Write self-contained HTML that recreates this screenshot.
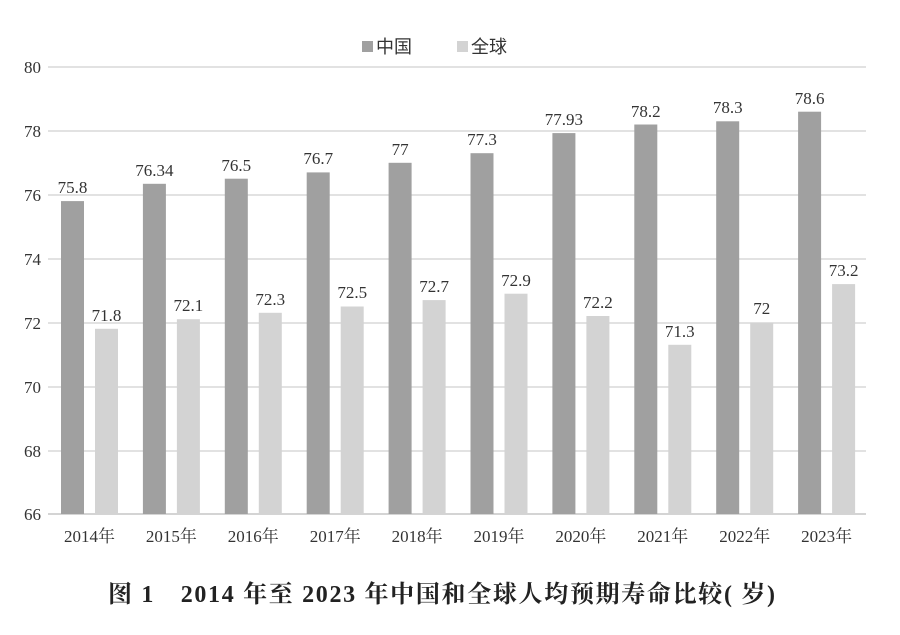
<!DOCTYPE html>
<html><head><meta charset="utf-8"><style>
body{margin:0;background:#fff;width:900px;height:630px;overflow:hidden}
</style></head><body>
<svg width="900" height="630" xmlns="http://www.w3.org/2000/svg" font-family="Liberation Serif, Noto Serif CJK SC, serif">
<g stroke="#d0d0d0" stroke-width="1.2">
<line x1="48" x2="866" y1="67" y2="67"/><line x1="48" x2="866" y1="131" y2="131"/>
<line x1="48" x2="866" y1="195" y2="195"/><line x1="48" x2="866" y1="259" y2="259"/>
<line x1="48" x2="866" y1="323" y2="323"/><line x1="48" x2="866" y1="387" y2="387"/>
<line x1="48" x2="866" y1="451" y2="451"/><line x1="48" x2="866" y1="514" y2="514" stroke="#bbb"/>
</g>
<g font-size="17" fill="#333" text-anchor="end">
<text x="41" y="73">80</text><text x="41" y="137">78</text><text x="41" y="201">76</text><text x="41" y="265">74</text>
<text x="41" y="329">72</text><text x="41" y="393">70</text><text x="41" y="457">68</text><text x="41" y="520">66</text>
</g>
<g fill="#a0a0a0">
<rect x="61" y="201.1" width="23" height="312.9"/>
<rect x="142.9" y="183.8" width="23" height="330.2"/>
<rect x="224.8" y="178.7" width="23" height="335.3"/>
<rect x="306.7" y="172.4" width="23" height="341.6"/>
<rect x="388.6" y="162.8" width="23" height="351.2"/>
<rect x="470.5" y="153.2" width="23" height="360.8"/>
<rect x="552.4" y="133.1" width="23" height="380.9"/>
<rect x="634.3" y="124.5" width="23" height="389.5"/>
<rect x="716.2" y="121.3" width="23" height="392.7"/>
<rect x="798.1" y="111.7" width="23" height="402.3"/>
</g>
<g fill="#d3d3d3">
<rect x="95" y="328.8" width="23" height="185.2"/>
<rect x="176.9" y="319.2" width="23" height="194.8"/>
<rect x="258.8" y="312.8" width="23" height="201.2"/>
<rect x="340.7" y="306.5" width="23" height="207.5"/>
<rect x="422.6" y="300.1" width="23" height="213.9"/>
<rect x="504.5" y="293.7" width="23" height="220.3"/>
<rect x="586.4" y="316" width="23" height="198"/>
<rect x="668.3" y="344.8" width="23" height="169.2"/>
<rect x="750.2" y="322.4" width="23" height="191.6"/>
<rect x="832.1" y="284.1" width="23" height="229.9"/>
</g>
<g font-size="17" fill="#333" text-anchor="middle">
<text x="72.5" y="193">75.8</text><text x="154.4" y="176">76.34</text><text x="236.3" y="171">76.5</text>
<text x="318.2" y="164">76.7</text><text x="400.1" y="155">77</text><text x="482" y="145">77.3</text>
<text x="563.9" y="125">77.93</text><text x="645.8" y="117">78.2</text><text x="727.7" y="113">78.3</text>
<text x="809.6" y="104">78.6</text>
<text x="106.5" y="321">71.8</text><text x="188.4" y="311">72.1</text><text x="270.3" y="305">72.3</text>
<text x="352.2" y="298">72.5</text><text x="434.1" y="292">72.7</text><text x="516" y="286">72.9</text>
<text x="597.9" y="308">72.2</text><text x="679.8" y="337">71.3</text><text x="761.7" y="314">72</text>
<text x="843.6" y="276">73.2</text>
<text x="89.5" y="542">2014年</text><text x="171.4" y="542">2015年</text><text x="253.3" y="542">2016年</text>
<text x="335.2" y="542">2017年</text><text x="417.1" y="542">2018年</text><text x="499" y="542">2019年</text>
<text x="580.9" y="542">2020年</text><text x="662.8" y="542">2021年</text><text x="744.7" y="542">2022年</text>
<text x="826.6" y="542">2023年</text>
</g>
<g font-family="Liberation Sans, Noto Sans CJK SC, sans-serif" font-size="18" fill="#333">
<rect x="362" y="41" width="11" height="11" fill="#a0a0a0"/><text x="376" y="53">中国</text>
<rect x="457" y="41" width="11" height="11" fill="#d3d3d3"/><text x="471" y="53">全球</text>
</g>
<text x="108" y="602" font-size="24" font-weight="bold" fill="#222" textLength="667" lengthAdjust="spacing">图 1　2014 年至 2023 年中国和全球人均预期寿命比较( 岁)</text>
</svg>
</body></html>
